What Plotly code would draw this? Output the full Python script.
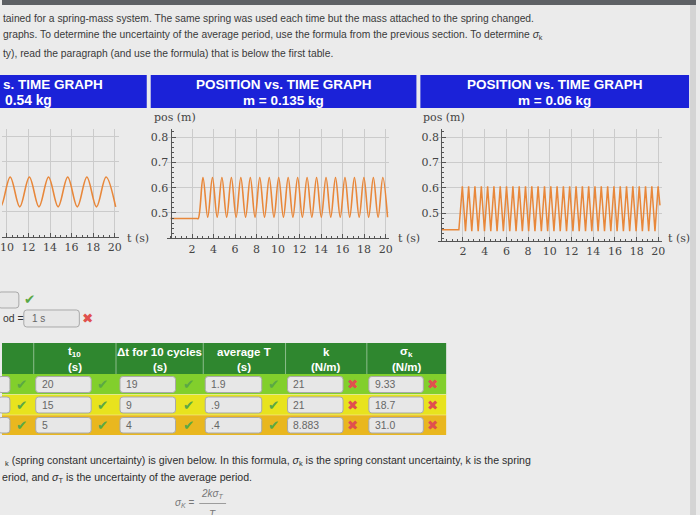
import plotly.graph_objects as go

# ---------------- data ----------------
# m = 0.54 kg (partly visible, left)
left_t = [8.52, 9.41, 10.30, 11.19, 12.08, 12.97, 13.86, 14.75, 15.64, 16.53, 17.42, 18.31, 19.20, 20.09]
left_pos = [0.639, 0.520, 0.639, 0.520, 0.639, 0.520, 0.639, 0.520, 0.639, 0.520, 0.639, 0.520, 0.639, 0.520]

# m = 0.135 kg (middle)
mid_t = [0, 2.45, 2.58, 3.02, 3.46, 3.90, 4.34, 4.78, 5.22, 5.66, 6.10, 6.54, 6.98, 7.42, 7.86,
         8.30, 8.74, 9.18, 9.62, 10.06, 10.50, 10.94, 11.38, 11.82, 12.26, 12.70, 13.14, 13.58,
         14.02, 14.46, 14.90, 15.34, 15.78, 16.22, 16.66, 17.10, 17.54, 17.98, 18.42, 18.86,
         19.30, 19.74, 20.18]
mid_pos = [0.478, 0.478, 0.478, 0.640, 0.483, 0.640, 0.483, 0.640, 0.483, 0.640, 0.483, 0.640,
           0.483, 0.640, 0.483, 0.640, 0.483, 0.640, 0.483, 0.640, 0.483, 0.640, 0.483, 0.640,
           0.483, 0.640, 0.483, 0.640, 0.483, 0.640, 0.483, 0.640, 0.483, 0.640, 0.483, 0.640,
           0.483, 0.640, 0.483, 0.640, 0.483, 0.640, 0.483]

# m = 0.06 kg (right)
right_t = [0, 1.62, 1.94, 2.23, 2.52, 2.81, 3.10, 3.40, 3.69, 3.98, 4.27, 4.56, 4.85, 5.14, 5.43,
           5.72, 6.01, 6.31, 6.60, 6.89, 7.18, 7.47, 7.76, 8.05, 8.34, 8.63, 8.92, 9.22, 9.51,
           9.80, 10.09, 10.38, 10.67, 10.96, 11.25, 11.54, 11.83, 12.13, 12.42, 12.71, 13.00,
           13.29, 13.58, 13.87, 14.16, 14.45, 14.74, 15.04, 15.33, 15.62, 15.91, 16.20, 16.49,
           16.78, 17.07, 17.36, 17.65, 17.95, 18.24, 18.53, 18.82, 19.11, 19.40, 19.69, 19.98,
           20.15]
right_pos = [0.434, 0.434, 0.605, 0.428, 0.605, 0.428, 0.605, 0.428, 0.605, 0.428, 0.605, 0.428,
             0.605, 0.428, 0.605, 0.428, 0.605, 0.428, 0.605, 0.428, 0.605, 0.428, 0.605, 0.428,
             0.605, 0.428, 0.605, 0.428, 0.605, 0.428, 0.605, 0.428, 0.605, 0.428, 0.605, 0.428,
             0.605, 0.428, 0.605, 0.428, 0.605, 0.428, 0.605, 0.428, 0.605, 0.428, 0.605, 0.428,
             0.605, 0.428, 0.605, 0.428, 0.605, 0.428, 0.605, 0.428, 0.605, 0.428, 0.605, 0.428,
             0.605, 0.428, 0.605, 0.428, 0.605, 0.530]

graph_masses = ["0.54 kg", "0.135 kg", "0.06 kg"]
x_tick_vals = [2, 4, 6, 8, 10, 12, 14, 16, 18, 20]
y_tick_vals = [0.5, 0.6, 0.7, 0.8]

# table
table_headers = [("", ""), ("t<sub>10</sub>", "(s)"), ("Δt for 10 cycles", "(s)"),
                 ("average T", "(s)"), ("k", "(N/m)"), ("σ<sub>k</sub>", "(N/m)")]
col0_vals = ["", "", ""]
t10_vals = ["20", "15", "5"]
dt10_vals = ["19", "9", "4"]
avgT_vals = ["1.9", ".9", ".4"]
k_vals = ["21", "21", "8.883"]
sigk_vals = ["9.33", "18.7", "31.0"]
col_status = [True, True, True, True, False, False]
period_value = "1 s"

# ---------------- helpers ----------------
W, H = 700, 515
def X(px): return px / W
def Y(py): return 1 - py / H

shapes = []
annotations = []

def rect(x0, y0, x1, y1, fill, line=None, lw=0):
    shapes.append(dict(type="rect", xref="paper", yref="paper", x0=X(x0), x1=X(x1),
                       y0=Y(y1), y1=Y(y0), fillcolor=fill,
                       line=dict(color=line or fill, width=lw), layer="below"))

def rrect(x0, y0, x1, y1, r=3, fill="#e7e7e7", line="#a9a9a9"):
    pts = lambda x, y: f"{X(x):.5f},{Y(y):.5f}"
    p = (f"M {pts(x0 + r, y0)} L {pts(x1 - r, y0)} Q {pts(x1, y0)} {pts(x1, y0 + r)} "
         f"L {pts(x1, y1 - r)} Q {pts(x1, y1)} {pts(x1 - r, y1)} L {pts(x0 + r, y1)} "
         f"Q {pts(x0, y1)} {pts(x0, y1 - r)} L {pts(x0, y0 + r)} Q {pts(x0, y0)} {pts(x0 + r, y0)} Z")
    shapes.append(dict(type="path", xref="paper", yref="paper", path=p, fillcolor=fill,
                       line=dict(color=line, width=1), layer="above"))

def hline(x0, x1, y, color, w=1):
    shapes.append(dict(type="line", xref="paper", yref="paper", x0=X(x0), x1=X(x1),
                       y0=Y(y), y1=Y(y), line=dict(color=color, width=w)))

def vline(x, y0, y1, color, w=1):
    shapes.append(dict(type="line", xref="paper", yref="paper", x0=X(x), x1=X(x),
                       y0=Y(y0), y1=Y(y1), line=dict(color=color, width=w)))

def text(x, y, s, size=10, color="#333", family="Liberation Sans", anchor="left"):
    annotations.append(dict(x=X(x), y=Y(y), xref="paper", yref="paper", text=s, showarrow=False,
                            xanchor=anchor, yanchor="middle", align=anchor if anchor != "center" else "center",
                            font=dict(size=size, color=color, family=family)))

CHECK = "✔"
CROSS = "✖"
def mark(x, y, ok):
    text(x, y, CHECK if ok else CROSS, size=13.5,
         color="#5aa845" if ok else "#e0504e", family="DejaVu Sans", anchor="center")

# ---------------- page decorations ----------------
rect(0, 0, 700, 5, "#5e6165")
rect(694, 5, 700, 515, "#d4d4d4")

para_top = [
    "tained for a spring-mass system. The same spring was used each time but the mass attached to the spring changed.",
    "graphs. To determine the uncertainty of the average period, use the formula from the previous section. To determine <i>σ</i><sub>k</sub>",
    "ty), read the paragraph (and use the formula) that is below the first table.",
]
for i, s in enumerate(para_top):
    text(-1, 18 + i * 17.5, s, size=10.3, color="#3a3a3a")

# blue headers
BLUE = "#1b22d8"
hdr_boxes = [(-5, 146), (150, 418), (422, 693)]
for (x0, x1) in hdr_boxes:
    rect(x0, 75, x1, 108, BLUE)
text(-1, 84, "<b>s. TIME GRAPH</b>", size=13.5, color="white", anchor="left")
text(1, 100, "<b>" + graph_masses[0] + "</b>", size=13.8, color="white", anchor="left")
for (x0, x1), m in zip(hdr_boxes[1:], graph_masses[1:]):
    c = (x0 + x1) / 2
    text(c, 84, "<b>POSITION vs. TIME GRAPH</b>", size=13.5, color="white", anchor="center")
    text(c, 100, "<b>m = " + m + "</b>", size=13.5, color="white", anchor="center")

# axis labels of graphs
SERIF = "DejaVu Serif"
text(151, 118, "pos (m)", size=11, color="#444", family=SERIF)
text(423, 118, "pos (m)", size=11, color="#444", family=SERIF)
text(124, 239, "t (s)", size=11, color="#444", family=SERIF)
text(397, 239, "t (s)", size=11, color="#444", family=SERIF)
text(670, 239, "t (s)", size=11, color="#444", family=SERIF)

# period inputs
rrect(-4, 292, 17, 308)
mark(28, 299, True)
text(-1, 318, "od =", size=10.4, color="#333")
rrect(22, 310, 78, 327)
text(28, 318.5, period_value, size=10, color="#666")
mark(86, 318, False)

# ---------------- table ----------------
GREEN_H = "#2f872f"
row_cols = ["#82cf2c", "#e8e31e", "#e9b71f"]
col_edges = [0, 32, 115, 203, 286, 368, 448]
rect(0, 343, 448, 374, GREEN_H)
for xe in col_edges[1:-1]:
    vline(xe, 343, 374, "rgba(255,255,255,0.45)")
for j, (l1, l2) in enumerate(table_headers):
    c = (col_edges[j] + col_edges[j + 1]) / 2
    if l1:
        text(c, 352, "<b>" + l1 + "</b>", size=11.5, color="white", anchor="center")
        text(c, 366.5, "<b>" + l2 + "</b>", size=11.5, color="white", anchor="center")

row_edges = [374, 394.5, 415, 435]
box_x = [(-4, 8), (34, 90), (119, 175), (205, 262), (288, 344), (370, 425)]
mark_x = [20, 101, 188, 274, 354, 434]
columns = [col0_vals, t10_vals, dt10_vals, avgT_vals, k_vals, sigk_vals]
for i in range(3):
    y0, y1 = row_edges[i], row_edges[i + 1]
    rect(0, y0, 448, y1, row_cols[i])
    yc = (y0 + y1) / 2
    for j in range(6):
        bx0, bx1 = box_x[j]
        rrect(bx0, y0 + 2.5, bx1, y1 - 2)
        if columns[j][i]:
            text(bx0 + 4, yc + 0.3, columns[j][i], size=10.4, color="#666")
        mark(mark_x[j], yc, col_status[j])
for ye in row_edges[1:-1]:
    hline(0, 448, ye, "rgba(255,255,255,0.35)")

# bottom paragraph + formula
text(1, 461, "<sub>k</sub> (spring constant uncertainty) is given below. In this formula, <i>σ</i><sub>k</sub> is the spring constant uncertainty, k is the spring",
     size=10.6, color="#2e2e2e")
text(-2, 478, "eriod, and <i>σ</i><sub>T</sub> is the uncertainty of the average period.", size=10.6, color="#2e2e2e")
text(196, 503, "<i>σ<sub>K</sub></i> =", size=10, color="#777", anchor="right")
text(212, 494, "<i>2kσ<sub>T</sub></i>", size=10, color="#777", anchor="center")
hline(199, 226, 503.5, "#888", 0.8)
text(212, 514, "<i>T</i>", size=10, color="#777", anchor="center")

# ---------------- graphs ----------------
fig = go.Figure()
LINE = "#e8873a"
fig.add_trace(go.Scatter(x=left_t, y=left_pos, mode="lines", line=dict(color=LINE, width=1.6, shape="spline"),
                         xaxis="x", yaxis="y", showlegend=False, hoverinfo="skip"))
fig.add_trace(go.Scatter(x=mid_t, y=mid_pos, mode="lines", line=dict(color=LINE, width=1.6, shape="spline"),
                         xaxis="x2", yaxis="y2", showlegend=False, hoverinfo="skip"))
fig.add_trace(go.Scatter(x=right_t, y=right_pos, mode="lines", line=dict(color=LINE, width=1.5),
                         xaxis="x3", yaxis="y3", showlegend=False, hoverinfo="skip"))

GRID = "#cbcbcb"
AX = "#555"
tickfont = dict(family=SERIF, size=11, color="#444")

def xaxis(domain, rng, anchor):
    return dict(domain=domain, range=rng, anchor=anchor, showline=True, linecolor=AX, linewidth=1,
                tickmode="array", tickvals=x_tick_vals, ticks="inside", ticklen=4, tickcolor=AX,
                showgrid=True, gridcolor=GRID, gridwidth=1, zeroline=False, tickfont=tickfont,
                ticklabeloverflow="allow",
                minor=dict(tickmode="array", tickvals=[v + 0.5 * k for v in range(0, 21) for k in (0, 1)],
                           ticks="inside", ticklen=2, tickcolor=AX, showgrid=False),
                fixedrange=True)

def yaxis(domain, rng, pos, show=True):
    d = dict(domain=domain, range=rng, anchor="free", position=pos, showline=show, linecolor=AX, linewidth=1,
             tickmode="array", tickvals=y_tick_vals, ticks="inside" if show else "", ticklen=4, tickcolor=AX,
             showticklabels=show, showgrid=True, gridcolor=GRID, gridwidth=1, zeroline=False,
             tickfont=tickfont, fixedrange=True)
    if show:
        d["minor"] = dict(tickmode="array", tickvals=[round(0.40 + 0.02 * k, 2) for k in range(22)],
                          ticks="inside", ticklen=2, tickcolor=AX, showgrid=False)
    return d

fig.update_layout(
    width=W, height=H, margin=dict(l=0, r=0, t=0, b=0),
    paper_bgcolor="#ebebeb", plot_bgcolor="rgba(0,0,0,0)",
    xaxis=xaxis([0, X(118)], [9.54, 20.4], "y"),
    yaxis=yaxis([Y(237), Y(129)], [0.40, 0.83], 0, show=False),
    xaxis2=xaxis([X(166.7), X(390.2)], [-0.3, 20.3], "y2"),
    yaxis2=yaxis([Y(238.3), Y(129.4)], [0.40, 0.83], X(170)),
    xaxis3=xaxis([X(439.8), X(665.3)], [-0.3, 20.3], "y3"),
    yaxis3=yaxis([Y(240.9), Y(129.4)], [0.39, 0.83], X(443.1)),
    shapes=shapes, annotations=annotations,
)

fig.write_html("out.html", config={"displayModeBar": False},
               post_script="document.body.style.margin='0px';document.body.style.overflow='hidden';")
